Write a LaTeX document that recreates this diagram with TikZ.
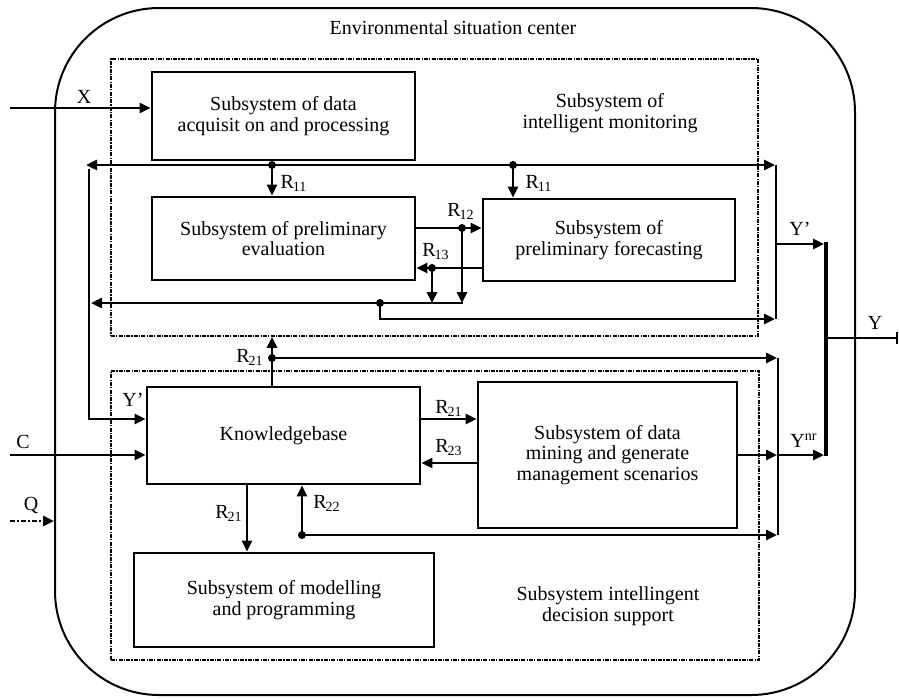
\documentclass[tikz,border=0pt]{standalone}
\usepackage{fontspec}
\setmainfont{Liberation Serif}
\usetikzlibrary{arrows.meta}
\newcommand{\rlab}[1]{R\textsubscript{\kern-0.6pt#1}}
\begin{document}
\begin{tikzpicture}[x=0.5pt,y=-0.5pt,
  box/.style={draw, line width=1.4pt, rectangle, inner sep=0pt, align=center, font=\fontsize{10}{10.2}\selectfont},
  dotbox/.style={draw, line width=0.9pt, dash pattern=on 2pt off 0.6pt on 0.6pt off 0.6pt, rectangle, inner sep=0pt},
  conn/.style={line width=1.3pt},
  arr/.style={conn, -{Triangle[length=5.5pt,width=5pt]}},
  lbl/.style={font=\fontsize{10}{10.2}\selectfont, inner sep=0pt, align=center},
]
\useasboundingbox (0,0) rectangle (899,698);

% outer rounded frame
\draw[line width=1pt, rounded corners=52pt] (55,8) rectangle (855,695);
\node[lbl] (env) at (453,28) {Environmental situation center};

% dotted subsystems
\node[dotbox, minimum width=323.5pt, minimum height=138.5pt] (M) at (434.5,197.5) {};
\node[dotbox, minimum width=324pt, minimum height=144.5pt] (D) at (435,515.5) {};
\node[lbl] (lM) at (610,113) {Subsystem of\\intelligent monitoring};
\node[lbl] (lD) at (608,606) {Subsystem intellingent\\decision support};

% blocks
\node[box, minimum width=131.5pt, minimum height=44pt] (A) at (283.5,116) {Subsystem of data\\acquisit on and processing};
\node[box, minimum width=131.5pt, minimum height=41.5pt] (B) at (283.5,238.5) {Subsystem of preliminary\\evaluation};
\node[box, minimum width=126pt, minimum height=41pt] (C) at (609,240) {Subsystem of\\preliminary forecasting};
\node[box, minimum width=136.5pt, minimum height=48.5pt] (KB) at (283.5,435.5) {Knowledgebase};
\node[box, minimum width=129.5pt, minimum height=73pt] (DM) at (607.5,455) {Subsystem of data\\mining and generate\\management scenarios};
\node[box, minimum width=150pt, minimum height=47pt] (MP) at (284,600) {Subsystem of modelling\\and programming};

% coordinates
\coordinate (d1) at (272,165);
\coordinate (d2) at (513,165);
\coordinate (d3) at (462,228);
\coordinate (d4) at (432,268);
\coordinate (d5) at (380,303);
\coordinate (d6) at (272,358);
\coordinate (d7) at (302,535);
\coordinate (tl) at (86,165);
\coordinate (vt) at (89,169);
\coordinate (vb) at (89,419);
\coordinate (tr) at (775,165);
\coordinate (b2l) at (91,303);
\coordinate (b2r) at (463,303);
\coordinate (b3a) at (380,319);
\coordinate (b3r) at (775,319);
\coordinate (yv1) at (776,165);
\coordinate (yv2) at (776,319);
\coordinate (yp1) at (776,244);
\coordinate (yp2) at (824,244);
\coordinate (yt1) at (826,242);
\coordinate (yt2) at (826,456);
\coordinate (yo1) at (826,338);
\coordinate (yo2) at (898,338);
\coordinate (lr) at (777,358);
\coordinate (lv1) at (778,358);
\coordinate (lv2) at (778,535);
\coordinate (yn) at (777,455);
\coordinate (yn2) at (824,455);
\coordinate (br) at (777,535);
\coordinate (x0) at (10,108);
\coordinate (c0) at (10,455);
\coordinate (q0) at (10,521);
\coordinate (q1) at (54,521);
\coordinate (k1) at (247,500);
\coordinate (kr1) at (440,419);
\coordinate (kr2) at (440,463);

% inputs
\draw[arr] (x0) -- (A.west |- x0);
\draw[arr] (c0) -- (KB.west |- c0);
\draw[arr, dash pattern=on 2.5pt off 1pt on 1pt off 1pt] (q0) -- (q1);

% top bus
\draw[conn] (A.south -| d1) -- (d1);
\draw[arr] (d1) -- (tl);
\draw[arr] (d1) -- (tr);
\draw[arr] (d1) -- (B.north -| d1);
\draw[arr] (d2) -- (C.north -| d2);
\draw[arr] (vt) -- (vb) -- (KB.west |- vb);

% B <-> C
\draw[arr] (B.east |- d3) -- (C.west |- d3);
\draw[arr] (C.west |- d4) -- (B.east |- d4);
\draw[arr] (d3) -- (d3 |- b2r);
\draw[arr] (d4) -- (d4 |- b2r);

% second bus
\draw[conn] (b2r) -- (d5);
\draw[arr] (d5) -- (b2l);
\draw[arr] (d5) -- (b3a) -- (b3r);

% right Y' collector
\draw[conn] (yv1) -- (yv2);
\draw[arr] (yp1) -- (yp2);
\draw[line width=2.4pt] (yt1) -- (yt2);
\draw[line width=0.9pt, -{Bar[width=6pt]}] (yo1) -- (yo2);

% knowledgebase connections
\draw[arr] (KB.north -| d6) -- (M.south -| d6);
\draw[arr] (d6) -- (lr);
\draw[conn] (lv1) -- (lv2);
\draw[arr] (KB.east |- kr1) -- (DM.west |- kr1);
\draw[arr] (DM.west |- kr2) -- (KB.east |- kr2);
\draw[arr] (DM.east |- yn) -- (yn);
\draw[arr] (yn) -- (yn2);
\draw[arr] (d7) -- (KB.south -| d7);
\draw[arr] (d7) -- (br);
\draw[arr] (KB.south -| k1) -- (MP.north -| k1);

% dots
\foreach \p in {d1,d2,d3,d4,d5,d6,d7} \fill (\p) circle (2pt);

% labels
\node[lbl] (lX) at (84,97) {X};
\node[lbl] (lC) at (23,442) {C};
\node[lbl] (lQ) at (31,505) {Q};
\node[lbl] (lR11a) at (294,183) {\rlab{11}};
\node[lbl] (lR11b) at (539,183) {\rlab{11}};
\node[lbl] (lR12) at (461,211) {\rlab{12}};
\node[lbl] (lR13) at (436,252) {\rlab{13}};
\node[lbl] (lR21u) at (250,357) {\rlab{21}};
\node[lbl] (lR21r) at (449,408) {\rlab{21}};
\node[lbl] (lR23) at (449,448) {\rlab{23}};
\node[lbl] (lR21d) at (229,513) {\rlab{21}};
\node[lbl] (lR22) at (327,503) {\rlab{22}};
\node[lbl] (lY1) at (133,400) {Y'};
\node[lbl] (lY2) at (800,229) {Y'};
\node[lbl] (lYnr) at (804,441) {Y\textsuperscript{nr}};
\node[lbl] (lY) at (875,323) {Y};
\end{tikzpicture}
\end{document}
